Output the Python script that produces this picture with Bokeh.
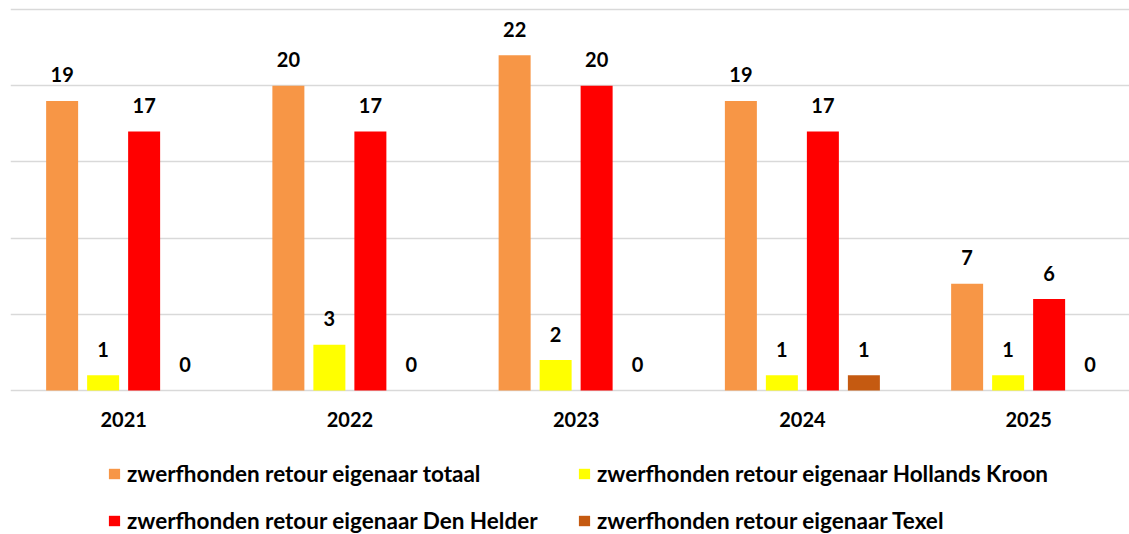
from bokeh.plotting import figure
from bokeh.models import ColumnDataSource, Range1d, FixedTicker, Legend, LegendItem
from bokeh.transform import dodge
from bokeh.core.properties import value
from bokeh.embed import file_html
from bokeh.resources import INLINE

years = ["2021", "2022", "2023", "2024", "2025"]
totaal = [19, 20, 22, 19, 7]
hollands_kroon = [1, 3, 2, 1, 1]
den_helder = [17, 17, 20, 17, 6]
texel = [0, 0, 0, 1, 0]

series = [
    ("zwerfhonden retour eigenaar totaal", totaal, "#F79646"),
    ("zwerfhonden retour eigenaar Hollands Kroon", hollands_kroon, "#FFFF00"),
    ("zwerfhonden retour eigenaar Den Helder", den_helder, "#FF0000"),
    ("zwerfhonden retour eigenaar Texel", texel, "#C55A11"),
]

FONT = "Lato"
src = ColumnDataSource(dict(
    x=list(range(len(years))),
    year=years,
    zero=[0] * len(years),
    s0=totaal, s1=hollands_kroon, s2=den_helder, s3=texel,
    l0=[str(v) for v in totaal], l1=[str(v) for v in hollands_kroon],
    l2=[str(v) for v in den_helder], l3=[str(v) for v in texel],
))

W, H = 1129, 534
p = figure(width=W, height=H, output_backend="svg", toolbar_location=None,
           x_range=Range1d(-0.5, -0.5 + 1119 / 226.25),
           y_range=Range1d(-144 / 15.24, 390 / 15.24),
           x_axis_location=None, y_axis_location=None,
           min_border_left=10, min_border_right=0,
           min_border_top=0, min_border_bottom=0)
p.outline_line_color = None
p.background_fill_color = "white"
p.border_fill_color = "white"

p.xgrid.visible = False
p.ygrid.ticker = FixedTicker(ticks=[0, 5, 10, 15, 20, 25])
p.ygrid.grid_line_color = "#D9D9D9"
p.ygrid.grid_line_width = 1.6

pitch = 41 / 226.25
bw = 32 / 226.25
offsets = [-1.5 * pitch, -0.5 * pitch, 0.5 * pitch, 1.5 * pitch]

items = []
for i, (name, vals, color) in enumerate(series):
    r = p.vbar(x=dodge("x", offsets[i], range=p.x_range), top=f"s{i}", width=bw,
               bottom=0, source=src, fill_color=color, line_color=None)
    p.text(x=dodge("x", offsets[i], range=p.x_range), y=f"s{i}", text=f"l{i}",
           source=src, text_align="center", text_baseline="alphabetic", y_offset=-26,
           text_font=value(FONT), text_font_style="bold", text_font_size="20px",
           text_color="black")
    items.append(LegendItem(label=name, renderers=[r]))

# category labels (x axis) under the zero line
p.text(x="x", y="zero", text="year", source=src, text_align="center",
       text_baseline="alphabetic", y_offset=29, text_font=value(FONT),
       text_font_style="bold", text_font_size="20px", text_color="black")

legend = Legend(items=items, ncols=2, orientation="horizontal",
                location=(97, 0), glyph_width=14, glyph_height=13,
                label_standoff=6, label_width=430, label_height=26, spacing=20,
                padding=0, margin=0, border_line_color=None,
                background_fill_alpha=0,
                label_text_font=FONT, label_text_font_style="bold",
                label_text_font_size="22.5px", label_text_color="black")
p.add_layout(legend, "center")

open("out.html", "w").write(file_html(p, INLINE))
